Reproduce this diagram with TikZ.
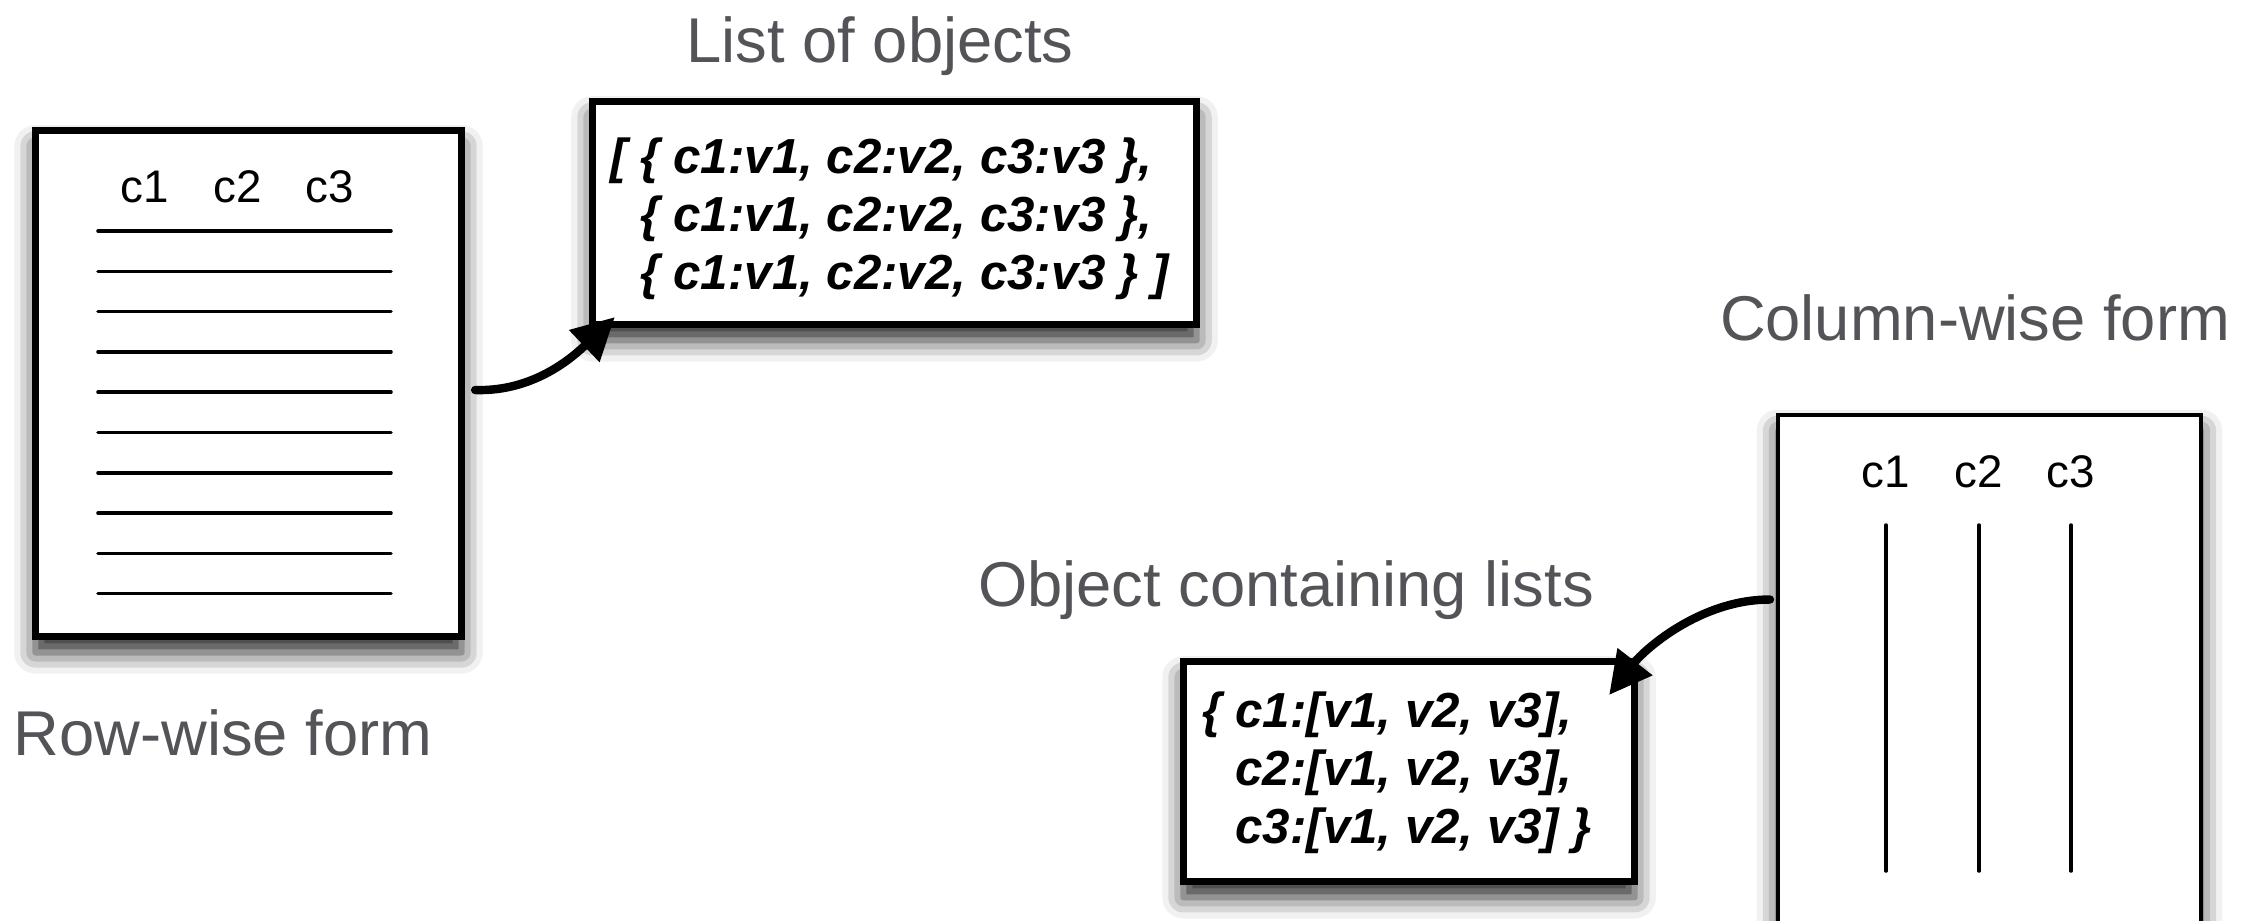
\documentclass[tikz,border=0pt]{standalone}
\usepackage{fontspec}
\setmainfont{Liberation Sans}
\usetikzlibrary{arrows.meta,shadows.blur}

\definecolor{labelgray}{HTML}{545458}

\tikzset{
  box/.style={draw, line width=2pt, fill=white,
    blur shadow={shadow xshift=0pt, shadow yshift=-4.5pt,
      shadow blur radius=6pt, shadow opacity=85}},
  thinbox/.style={box, line width=1.1pt},
  code/.style={font=\fontsize{14}{16.5}\selectfont\bfseries\itshape, align=left,
    anchor=west, inner sep=0pt},
  caption/.style={font=\fontsize{18}{22}\selectfont, text=labelgray, anchor=base, inner sep=0pt},
  hdr/.style={font=\fontsize{13}{15}\selectfont, anchor=base, inner sep=0pt},
  rule/.style={line width=1pt, line cap=round},
  link/.style={line width=2.4pt, line cap=round, -{Triangle[length=12pt,width=12pt]}}
}

\begin{document}
\begin{tikzpicture}[x=0.01cm, y=-0.01cm]
    \useasboundingbox (0,0) rectangle (2260,920);

    % row-wise table
    \node[box, minimum width=4.26cm, minimum height=5.06cm] (rowbox) at (248.5,383.5) {};
    \foreach \c/\x in {c1/145, c2/238, c3/330}
        \node[hdr] (row\c) at (\x,202) {\c};
    \foreach \i in {0,...,9}
        \draw[rule] (98,231+40.3*\i) -- (391,231+40.3*\i);
    \node[caption] (rowlabel) at (223,755) {Row-wise form};

    % column-wise table
    \node[thinbox, minimum width=4.23cm, minimum height=5.85cm] (colbox) at (1989.5,707.5) {};
    \foreach \c/\x in {c1/1886, c2/1979, c3/2071} {
        \node[hdr] (col\c) at (\x,487) {\c};
        \draw[rule] (\x,525) -- (\x,871);
    }
    \node[caption] (collabel) at (1975,340) {Column-wise form};

    % list of objects
    \node[box, minimum width=6.04cm, minimum height=2.23cm] (listbox) at (894.5,213) {};
    \node[code] (listtext) at (610,219)
        {[ \{ c1:v1, c2:v2, c3:v3 \},\\
         \phantom{[}\ \{ c1:v1, c2:v2, c3:v3 \},\\
         \phantom{[}\ \{ c1:v1, c2:v2, c3:v3 \} ]};
    \node[caption] (listlabel) at (880,62) {List of objects};

    % object containing lists
    \node[box, minimum width=4.51cm, minimum height=2.20cm] (objbox) at (1409,771.5) {};
    \node[code] (objtext) at (1202,773)
        {\{ c1:[v1, v2, v3],\\
         \phantom{\{}\ c2:[v1, v2, v3],\\
         \phantom{\{}\ c3:[v1, v2, v3] \}};
    \node[caption] (objlabel) at (1286,606) {Object containing lists};

    % arrows
    \draw[link] ([shift={(10,6.5)}]rowbox.east)
        .. controls +(60,2) and +(-40,38) .. ([shift={(26,-11)}]listbox.south west);
    \draw[link] ([shift={(-6,-108)}]colbox.west)
        .. controls +(-70,0) and +(35,-45) .. ([shift={(-29,37)}]objbox.north east);
\end{tikzpicture}
\end{document}
